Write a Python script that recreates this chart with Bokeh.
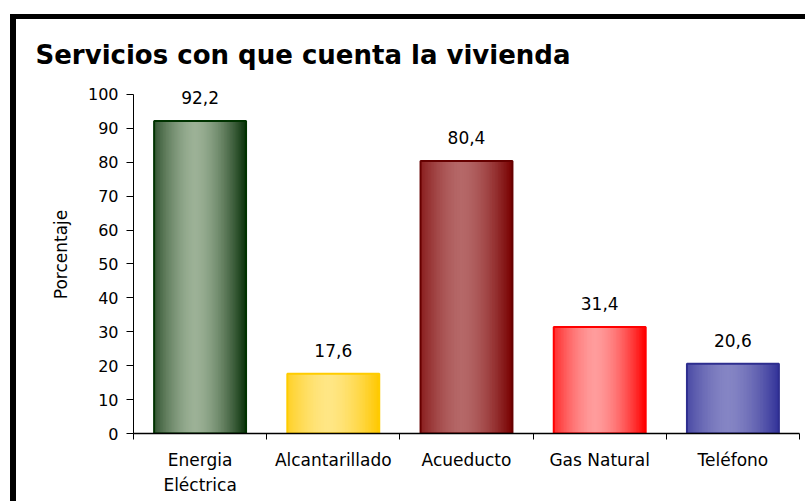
import numpy as np
from bokeh.plotting import figure
from bokeh.layouts import column, row
from bokeh.models import ColumnDataSource, FixedTicker, LabelSet, Title, Range1d, Spacer
from bokeh.core.properties import value
from bokeh.embed import file_html
from bokeh.resources import INLINE

# ---- data ----
categories = ["Energia\nEléctrica", "Alcantarillado", "Acueducto", "Gas Natural", "Teléfono"]
values = [92.2, 17.6, 80.4, 31.4, 20.6]
edge_colors = ["#0b320b", "#ffc800", "#780000", "#ff0000", "#333399"]
center_colors = ["#9cb196", "#ffe685", "#b56868", "#ff9c9c", "#8585c4"]
outline_colors = ["#003300", "#ffcc00", "#660000", "#ff0000", "#2e2e8f"]
y_ticks = list(range(0, 101, 10))
title_text = "Servicios con que cuenta la vivienda"
y_label = "Porcentaje"

FONT = "DejaVu Sans"
BAR_W = 0.69
N_STRIPS = 60
PW, PH = 789, 482


def mix(c1, c2, f):
    a = np.array([int(c1[i:i + 2], 16) for i in (1, 3, 5)], dtype=float)
    b = np.array([int(c2[i:i + 2], 16) for i in (1, 3, 5)], dtype=float)
    m = a + (b - a) * f
    return "#%02x%02x%02x" % tuple(int(round(v)) for v in m)


p = figure(width=PW, height=PH, output_backend="svg", toolbar_location=None,
           x_range=Range1d(0, len(categories)), y_range=Range1d(0, 105.6),
           min_border_left=117, min_border_right=6, min_border_top=56,
           min_border_bottom=68)
p.outline_line_color = None
p.xgrid.visible = False
p.ygrid.visible = False
p.background_fill_color = "white"
p.border_fill_color = "white"

p.add_layout(Title(text=title_text, align="left", offset=-98, standoff=11,
                   text_font=FONT, text_font_size="26px", text_font_style="bold",
                   text_color="black"), "above")

# gradient strips for each bar
sx, sw, stop, scol = [], [], [], []
for i, (v, e, c) in enumerate(zip(values, edge_colors, center_colors)):
    for j in range(N_STRIPS):
        t = (j + 0.5) / N_STRIPS
        d = abs(t - 0.45) / 0.55
        f = max(0.0, 1 - d ** 1.6)
        sx.append(i + 0.5 - BAR_W / 2 + t * BAR_W)
        sw.append(BAR_W / N_STRIPS * 1.6)
        stop.append(v)
        scol.append(mix(e, c, f))
strips = ColumnDataSource(dict(x=sx, w=sw, top=stop, color=scol))
p.vbar(x="x", width="w", top="top", bottom=0, source=strips,
       fill_color="color", line_color=None)

bars = ColumnDataSource(dict(
    x=[i + 0.5 for i in range(len(categories))],
    top=values,
    outline=outline_colors,
    label=[("%.1f" % v).replace(".", ",") for v in values],
))
p.vbar(x="x", width=BAR_W, top="top", bottom=0, source=bars,
       fill_color=None, line_color="outline", line_width=2)

labels = LabelSet(x="x", y="top", text="label", source=bars, y_offset=17,
                  text_align="center", text_baseline="alphabetic",
                  text_font=value(FONT), text_font_size=value("17px"), text_color="black")
p.add_layout(labels)

# y axis
ya = p.yaxis[0]
ya.ticker = FixedTicker(ticks=y_ticks)
ya.bounds = (0, 100)
ya.major_tick_out = 7
ya.major_tick_in = 0
ya.minor_tick_out = 0
ya.minor_tick_in = 0
ya.major_label_standoff = 8
ya.major_label_text_font = FONT
ya.major_label_text_font_size = "16px"
ya.major_label_text_color = "black"
ya.axis_line_color = "black"
ya.major_tick_line_color = "black"
ya.axis_label = y_label
ya.axis_label_text_font = FONT
ya.axis_label_text_font_size = "17px"
ya.axis_label_text_font_style = "normal"
ya.axis_label_text_color = "black"
ya.axis_label_standoff = 14

# x axis
xa = p.xaxis[0]
centers = [i + 0.5 for i in range(len(categories))]
xa.ticker = FixedTicker(ticks=centers, minor_ticks=list(range(len(categories) + 1)))
xa.major_label_overrides = {c: lab for c, lab in zip(centers, categories)}
xa.major_tick_out = 0
xa.major_tick_in = 0
xa.minor_tick_out = 6
xa.minor_tick_in = 0
xa.minor_tick_line_color = "black"
xa.axis_line_color = "black"
xa.axis_line_width = 1.5
xa.major_label_standoff = 10
xa.major_label_text_font = FONT
xa.major_label_text_font_size = "17px"
xa.major_label_text_color = "black"
xa.major_label_text_line_height = 1.25

# black frame (top and left edges) around the chart, as in the reference
black = {"background-color": "black"}
top_gap = Spacer(width=10, height=14)
top_row = row(Spacer(width=10, height=5), Spacer(width=795, height=5, styles=black),
              spacing=0)
main_row = row(Spacer(width=10, height=PH), Spacer(width=6, height=PH, styles=black), p,
               spacing=0)
layout = column(top_gap, top_row, main_row, spacing=0)

open("out.html", "w").write(file_html(layout, INLINE))
